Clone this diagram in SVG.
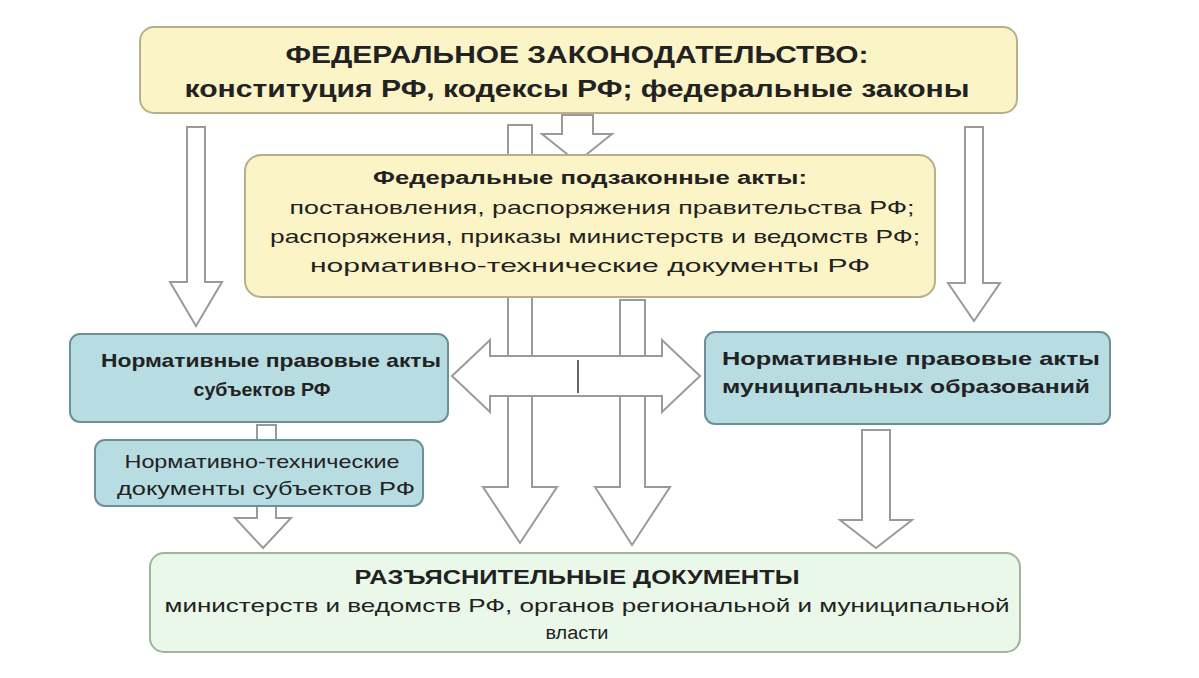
<svg xmlns="http://www.w3.org/2000/svg" width="1199" height="678" viewBox="0 0 1199 678">
<style>
text{font-family:"Liberation Sans",Arial,sans-serif;fill:#222;text-anchor:middle}
.b{font-weight:bold}
.ar{fill:#fff;stroke:#9a9a9a;stroke-width:2}
.y{fill:#fbf4c6;stroke:#b8b08a;stroke-width:2}
.bl{fill:#b7dde2;stroke:#6d8f96;stroke-width:2}
.g{fill:#eaf8ea;stroke:#9fb59f;stroke-width:2}
</style>
<rect width="1199" height="678" fill="#fff"/>
<g id="connectors">
<path class="ar" d="M187,127 H205 V282 H222 L196,326 L170,282 H187 Z"/>
<path class="ar" d="M965,127 H983 V283 H1000 L974,321 L948,283 H965 Z"/>
<path class="ar" d="M508,125 H532 V487 H557 L520,543 L483,487 H508 Z"/>
<path class="ar" d="M620,300 H645 V487 H670 L632,545 L595,487 H620 Z"/>
<path class="ar" d="M562,115 H593 V134 H612 L577,162 L542,134 H562 Z"/>
<path class="ar" d="M862,430 H890 V520 H912 L876,548 L840,520 H862 Z"/>
<path class="ar" d="M257,425 H276 V518 H291 L263,548 L235,518 H257 Z"/>
<path class="ar" d="M452,376 L490,340 V356 H662 V340 L700,376 L662,412 V396 H490 V412 Z"/>
<line x1="578" y1="360" x2="578" y2="393" stroke="#333" stroke-width="1.5"/>
</g>
<g id="n1"><rect class="y" x="140" y="27" width="877" height="86" rx="14"/>
<text class="b" x="577" y="63" font-size="24" textLength="583" lengthAdjust="spacingAndGlyphs">ФЕДЕРАЛЬНОЕ ЗАКОНОДАТЕЛЬСТВО:</text>
<text class="b" x="577" y="97" font-size="24" textLength="785" lengthAdjust="spacingAndGlyphs">конституция РФ, кодексы РФ; федеральные законы</text></g>
<g id="n2"><rect class="y" x="245" y="155" width="690" height="142" rx="16"/>
<text class="b" x="590" y="184" font-size="18" textLength="434" lengthAdjust="spacingAndGlyphs">Федеральные подзаконные акты:</text>
<text x="602" y="214" font-size="19" textLength="625" lengthAdjust="spacingAndGlyphs">постановления, распоряжения правительства РФ;</text>
<text x="595" y="243" font-size="19" textLength="650" lengthAdjust="spacingAndGlyphs">распоряжения, приказы министерств и ведомств  РФ;</text>
<text x="590" y="272" font-size="19" textLength="560" lengthAdjust="spacingAndGlyphs">нормативно-технические документы РФ</text></g>
<g id="n3"><rect class="bl" x="70" y="334" width="378" height="88" rx="10"/>
<text class="b" x="271" y="367" font-size="19" textLength="340" lengthAdjust="spacingAndGlyphs">Нормативные правовые акты</text>
<text class="b" x="262" y="396" font-size="19" textLength="137" lengthAdjust="spacingAndGlyphs">субъектов РФ</text></g>
<g id="n4"><rect class="bl" x="705" y="332" width="405" height="92" rx="10"/>
<text class="b" x="911" y="365" font-size="19" textLength="378" lengthAdjust="spacingAndGlyphs">Нормативные правовые акты</text>
<text class="b" x="906" y="393" font-size="19" textLength="368" lengthAdjust="spacingAndGlyphs">муниципальных образований</text></g>
<g id="n5"><rect class="bl" x="95" y="440" width="328" height="66" rx="10"/>
<text x="262" y="468" font-size="19" textLength="275" lengthAdjust="spacingAndGlyphs">Нормативно-технические</text>
<text x="266" y="495" font-size="19" textLength="298" lengthAdjust="spacingAndGlyphs">документы субъектов РФ</text></g>
<g id="n6"><rect class="g" x="150" y="553" width="870" height="99" rx="14"/>
<text class="b" x="577" y="584" font-size="20" textLength="445" lengthAdjust="spacingAndGlyphs">РАЗЪЯСНИТЕЛЬНЫЕ ДОКУМЕНТЫ</text>
<text x="587" y="612" font-size="19" textLength="845" lengthAdjust="spacingAndGlyphs">министерств и ведомств  РФ, органов региональной и муниципальной</text>
<text x="577" y="639" font-size="18" textLength="63" lengthAdjust="spacingAndGlyphs">власти</text></g>
</svg>
